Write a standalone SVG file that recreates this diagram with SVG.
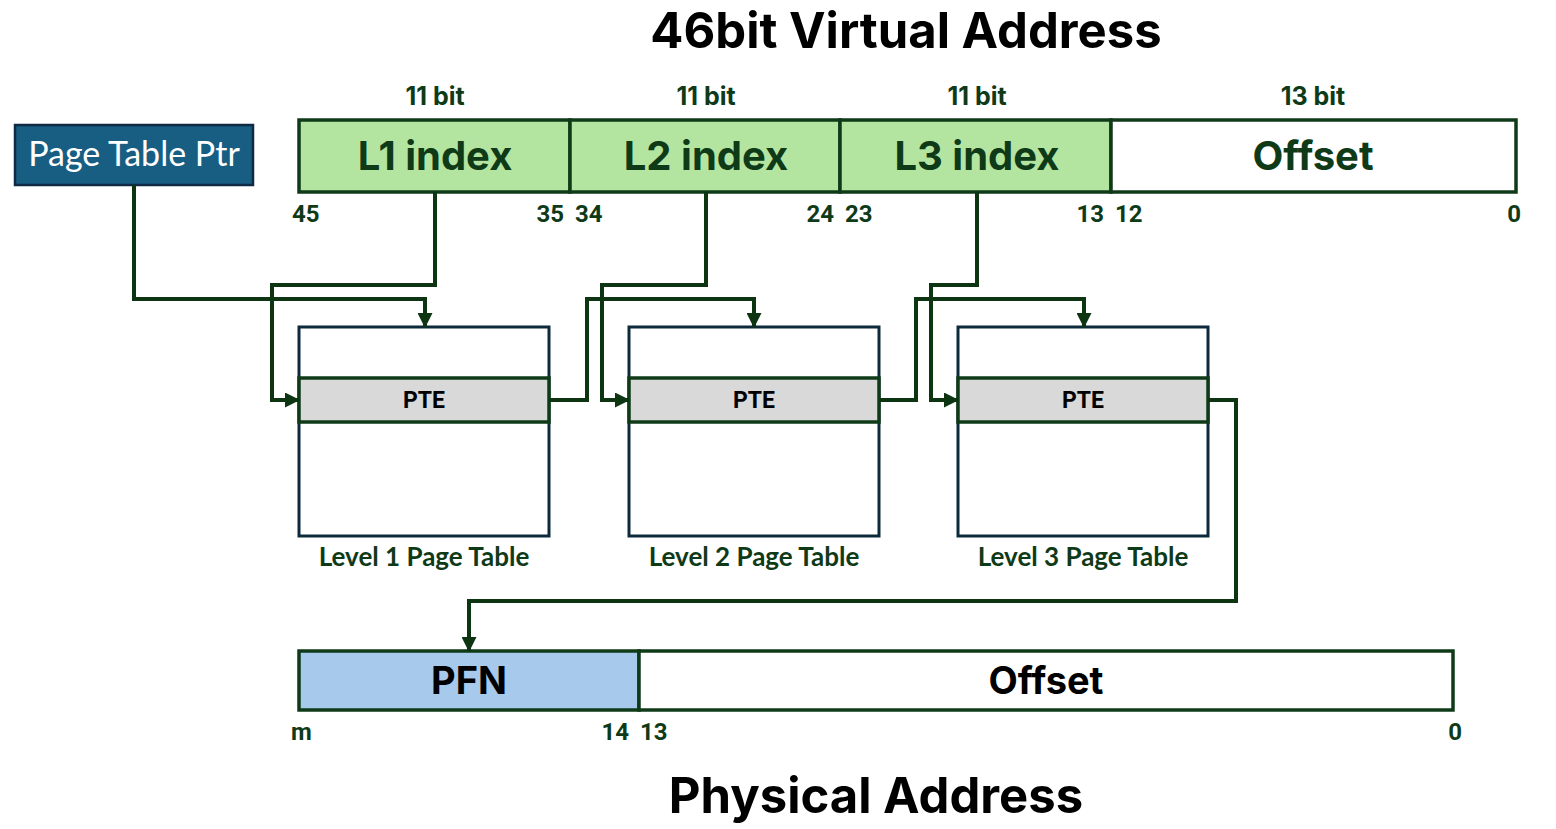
<svg xmlns="http://www.w3.org/2000/svg" width="1556" height="829" viewBox="0 0 1556 829">
<defs>
<marker id="arr" markerUnits="userSpaceOnUse" markerWidth="15" markerHeight="15" viewBox="0 0 15 15" refX="14" refY="7.5" orient="auto">
<path d="M0,0 L15,7.5 L0,15 Z" fill="#0d3512"/>
</marker>
<style>
.title{font-family:Inter,"Liberation Sans",sans-serif;font-weight:700;font-size:49px;fill:#000;text-anchor:middle}
.bits{font-family:Inter,"Liberation Sans",sans-serif;font-weight:700;font-size:25px;fill:#0f3a18;text-anchor:middle}
.num{font-family:Roboto,"Liberation Sans",sans-serif;font-weight:700;font-size:24px;fill:#0f3a18}
.field{font-family:Inter,"Liberation Sans",sans-serif;font-weight:700;font-size:40px;fill:#0f3a18;text-anchor:middle}
.pfield{font-family:Inter,"Liberation Sans",sans-serif;font-weight:700;font-size:38px;fill:#000;text-anchor:middle}
.bar{stroke:#0f3a18;stroke-width:3.5}
.green{fill:#b3e5a1}
.tbl{fill:#fff;stroke:#0c2a3c;stroke-width:3}
.pte{fill:#d9d9d9;stroke:#0f3a18;stroke-width:3.5}
.pteT{font-family:Roboto,"Liberation Sans",sans-serif;font-weight:700;font-size:23px;fill:#000;text-anchor:middle}
.lvl{font-family:Lato,"Open Sans",sans-serif;font-weight:700;font-size:26px;fill:#0f3a18;text-anchor:middle}
.conn{fill:none;stroke:#0d3512;stroke-width:4;stroke-linejoin:miter}
</style>
</defs>
<rect width="1556" height="829" fill="#fff"/>

<text class="title" x="906" y="48">46bit Virtual Address</text>

<g id="ptp">
<rect x="15" y="125" width="238" height="60" fill="#175e82" stroke="#0e2a44" stroke-width="2.5"/>
<text x="134" y="166" font-family="Lato,'Open Sans',sans-serif" font-size="34" fill="#fff" text-anchor="middle">Page Table Ptr</text>
</g>

<g id="vaddr">
<text class="bits" x="435" y="105">11 bit</text>
<text class="bits" x="706" y="105">11 bit</text>
<text class="bits" x="977" y="105">11 bit</text>
<text class="bits" x="1313" y="105">13 bit</text>
<rect class="bar green" x="299" y="120" width="271" height="72"/>
<rect class="bar green" x="570" y="120" width="270" height="72"/>
<rect class="bar green" x="840" y="120" width="271" height="72"/>
<rect class="bar" fill="#fff" x="1111" y="120" width="405" height="72"/>
<text class="field" x="435" y="170">L1 index</text>
<text class="field" x="706" y="170">L2 index</text>
<text class="field" x="977" y="170">L3 index</text>
<text class="field" x="1313" y="170">Offset</text>
<text class="num" x="292" y="222">45</text>
<text class="num" x="564" y="222" text-anchor="end">35</text>
<text class="num" x="575" y="222">34</text>
<text class="num" x="834" y="222" text-anchor="end">24</text>
<text class="num" x="845" y="222">23</text>
<text class="num" x="1104" y="222" text-anchor="end">13</text>
<text class="num" x="1115" y="222">12</text>
<text class="num" x="1521" y="222" text-anchor="end">0</text>
</g>

<g id="pt1">
<rect class="tbl" x="299" y="327" width="250" height="209"/>
<rect class="pte" x="299" y="378" width="250" height="44"/>
<text class="pteT" x="424" y="408">PTE</text>
<text class="lvl" x="424" y="566">Level 1 Page Table</text>
</g>
<g id="pt2">
<rect class="tbl" x="629" y="327" width="250" height="209"/>
<rect class="pte" x="629" y="378" width="250" height="44"/>
<text class="pteT" x="754" y="408">PTE</text>
<text class="lvl" x="754" y="566">Level 2 Page Table</text>
</g>
<g id="pt3">
<rect class="tbl" x="958" y="327" width="250" height="209"/>
<rect class="pte" x="958" y="378" width="250" height="44"/>
<text class="pteT" x="1083" y="408">PTE</text>
<text class="lvl" x="1083" y="566">Level 3 Page Table</text>
</g>

<g id="paddr">
<rect class="bar" fill="#a7c9eb" x="299" y="651" width="340" height="59"/>
<rect class="bar" fill="#fff" x="639" y="651" width="814" height="59"/>
<text class="pfield" x="469" y="694">PFN</text>
<text class="pfield" x="1046" y="694">Offset</text>
<text class="num" x="291" y="740">m</text>
<text class="num" x="629" y="740" text-anchor="end">14</text>
<text class="num" x="640" y="740">13</text>
<text class="num" x="1462" y="740" text-anchor="end">0</text>
</g>

<text class="title" x="876" y="813">Physical Address</text>

<g id="connectors">
<path class="conn" marker-end="url(#arr)" d="M134,185 V299 H425 V327"/>
<path class="conn" marker-end="url(#arr)" d="M435,192 V285 H272 V400 H299"/>
<path class="conn" marker-end="url(#arr)" d="M549,400 H587 V299 H754 V327"/>
<path class="conn" marker-end="url(#arr)" d="M706,192 V285 H602 V400 H629"/>
<path class="conn" marker-end="url(#arr)" d="M879,400 H916 V299 H1084 V327"/>
<path class="conn" marker-end="url(#arr)" d="M977,192 V285 H931 V400 H958"/>
<path class="conn" marker-end="url(#arr)" d="M1208,400 H1236 V601 H469 V651"/>
</g>
</svg>
